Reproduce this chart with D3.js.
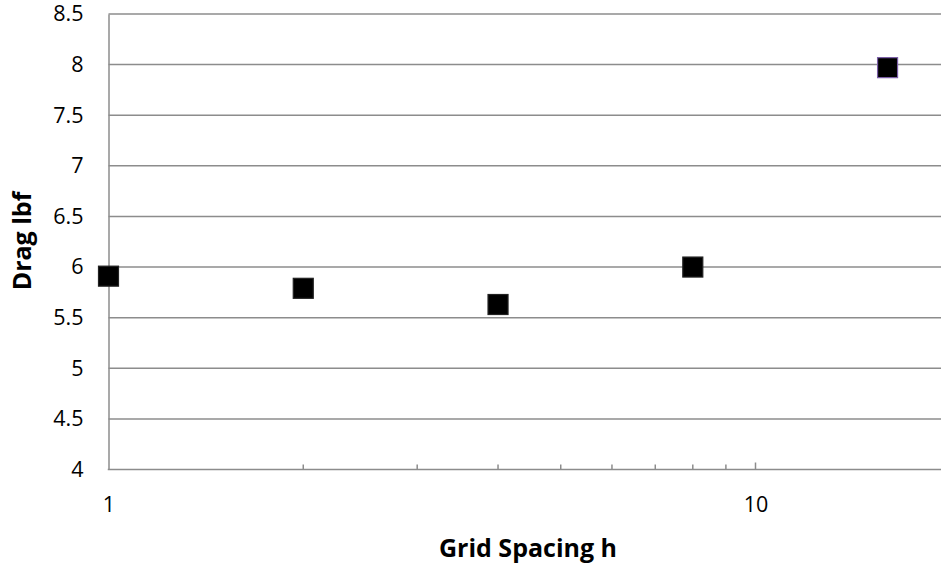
<!DOCTYPE html>
<html>
<head>
<meta charset="utf-8">
<script src="https://cdn.jsdelivr.net/npm/d3@7"></script>
<style>
  html, body { margin: 0; padding: 0; background: #fff; }
  svg { display: block; }
  text { font-family: "Open Sans", sans-serif; fill: #000; }
</style>
</head>
<body>
<svg id="chart" width="941" height="569"></svg>
<script>
const gridSpacing = [1, 2, 4, 8, 16];
const dragLbf = [5.91, 5.79, 5.63, 6.0, 7.97];
const yTicks = [4, 4.5, 5, 5.5, 6, 6.5, 7, 7.5, 8, 8.5];
const xMajorTicks = [1, 10];
const xMinorTicks = [2, 3, 4, 5, 6, 7, 8, 9, 20];
const xTitle = "Grid Spacing h";
const yTitle = "Drag lbf";

(function () {
const svg = d3.select("#chart");
const mLeft = 108.5, mTop = 14, mBottom = 469.5;
const decade = 647;
const x = d3.scaleLog().domain([1, 20]).range([mLeft, mLeft + decade * Math.log10(20)]);
const y = d3.scaleLinear().domain([4, 8.5]).range([mBottom, mTop]);
const mRight = 941;
const gridColor = "#8c8c8c";
const font = "'Open Sans', sans-serif";

// gridlines
svg.append("g").selectAll("line").data(yTicks.filter(d => d > 4)).join("line")
  .attr("x1", mLeft).attr("x2", mRight)
  .attr("y1", d => y(d)).attr("y2", d => y(d))
  .attr("stroke", gridColor).attr("stroke-width", 1.5);

// y axis labels
const yAxis = d3.axisLeft(y).tickValues(yTicks).tickSize(0).tickPadding(25)
  .tickFormat(d => d3.format("")(d));
const gy = svg.append("g").attr("transform", `translate(${mLeft},0)`).call(yAxis);
gy.select(".domain").attr("stroke", gridColor).attr("stroke-width", 1.5);
gy.selectAll("text").style("font-size", "21.5px").style("font-family", font).attr("fill", "#000");

// x axis
const xAxis = d3.axisBottom(x).tickValues(xMajorTicks).tickSize(0).tickPadding(27.5)
  .tickFormat(d3.format("d"));
const gx = svg.append("g").attr("transform", `translate(0,${mBottom})`).call(xAxis);
gx.select(".domain").remove();
gx.append("line").attr("x1", mLeft - 0.75).attr("x2", mRight).attr("y1", 0).attr("y2", 0)
  .attr("stroke", gridColor).attr("stroke-width", 1.5);
gx.selectAll("text").style("font-size", "21.5px").style("font-family", font).attr("fill", "#000");
// minor & major tick marks
gx.append("g").selectAll("line").data(xMinorTicks).join("line")
  .attr("x1", d => x(d)).attr("x2", d => x(d)).attr("y1", 0).attr("y2", -5)
  .attr("stroke", gridColor).attr("stroke-width", 1.5);
gx.append("g").selectAll("line").data([10]).join("line")
  .attr("x1", d => x(d)).attr("x2", d => x(d)).attr("y1", 0).attr("y2", -7)
  .attr("stroke", gridColor).attr("stroke-width", 1.5);

// markers
const size = 20;
svg.append("g").selectAll("rect").data(gridSpacing.map((g, i) => ({g, v: dragLbf[i], i}))).join("rect")
  .attr("x", d => x(d.g) - size / 2).attr("y", d => y(d.v) - size / 2)
  .attr("width", size).attr("height", size)
  .attr("fill", "#000")
  .attr("stroke", d => d.i === gridSpacing.length - 1 ? "#7b5ea7" : "#222")
  .attr("stroke-width", 1.2);

// titles
svg.append("text").attr("x", 528).attr("y", 557).attr("text-anchor", "middle")
  .style("font-family", font).style("font-size", "25px").style("font-weight", "bold").text(xTitle);
svg.append("text").attr("transform", "translate(31,241) rotate(-90)").attr("text-anchor", "middle")
  .style("font-family", font).style("font-size", "25px").style("font-weight", "bold").text(yTitle);
})();
</script>
</body>
</html>
